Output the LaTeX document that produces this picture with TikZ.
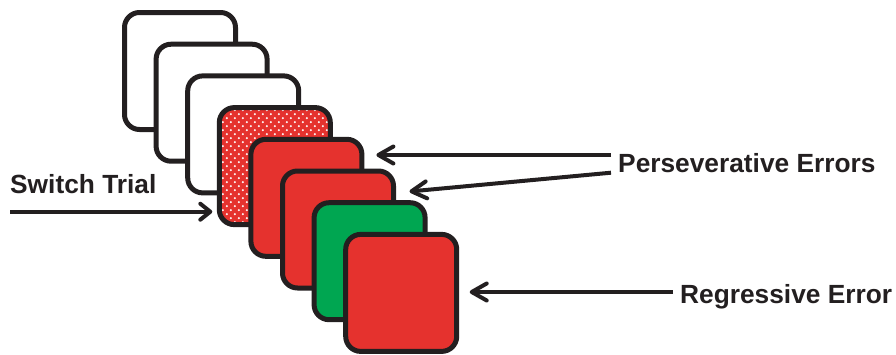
\documentclass[tikz,border=0pt]{standalone}
\usepackage{fontspec}
\setmainfont{Liberation Sans}
\usetikzlibrary{arrows.meta,calc}
\definecolor{ink}{HTML}{231F20}
\definecolor{cardred}{HTML}{E5322E}
\definecolor{cardgreen}{HTML}{00A651}
\tikzset{
  card/.style={draw=ink, line width=5pt, rounded corners=15pt, minimum width=111pt, minimum height=117pt, inner sep=0pt, outer sep=0pt},
  dotted card/.style={card, fill=cardred, path picture={
      \begin{scope}[shift={(path picture bounding box.center)}]
        \foreach \r in {0,...,32}{
          \foreach \c in {0,...,16}{
            \pgfmathsetmacro{\dx}{-64+8*\c+4*mod(\r,2)}
            \pgfmathsetmacro{\dy}{-64+4*\r}
            \fill[white] (\dx,\dy) circle (1.15);
          }
        }
      \end{scope}}},
  lbl/.style={anchor=base west, inner sep=0pt, text=ink, font=\bfseries\fontsize{26.3}{30}\selectfont},
  arr/.style={draw=ink, line width=4pt, -{Straight Barb[length=15pt,width=17pt,round]}},
  arrs/.style={draw=ink, line width=4pt, -{Straight Barb[length=10pt,width=16pt,round]}}
}
\begin{document}
\begin{tikzpicture}[x=1pt,y=-1pt]
\useasboundingbox (0,0) rectangle (896,354);
% cards from back to front
\node[card, fill=white] (c1) at (180.0,71.0) {};
\node[card, fill=white] (c2) at (211.6,102.7) {};
\node[card, fill=white] (c3) at (243.2,134.4) {};
\node[dotted card] (c4) at (274.8,166.1) {};
\node[card, fill=cardred] (c5) at (306.4,197.8) {};
\node[card, fill=cardred] (c6) at (338.0,229.5) {};
\node[card, fill=cardgreen] (c7) at (369.6,261.2) {};
\node[card, fill=cardred] (c8) at (401.2,292.9) {};
% labels
\node[lbl] (sw) at (10,193) {Switch Trial};
\node[lbl] (pe) at (618,172) {Perseverative Errors};
\node[lbl] (re) at (680,303) {Regressive Error};
% arrow starts
\coordinate (s1) at (611,155);
\coordinate (s2) at (611,172.7);
\coordinate (s3) at (10,211.7);
\coordinate (s4) at (673,292);
% arrows
\draw[arr] (s1) -- ([xshift=14.5pt]c5.east |- s1);
\draw[arr] (s2) -- ([shift={(16,20.5)}]c6.north east);
\draw[arrs] (s3) -- ([xshift=-7pt]c4.west |- s3);
\draw[arr] (s4) -- ([xshift=13pt]c8.east |- s4);
\end{tikzpicture}
\end{document}
